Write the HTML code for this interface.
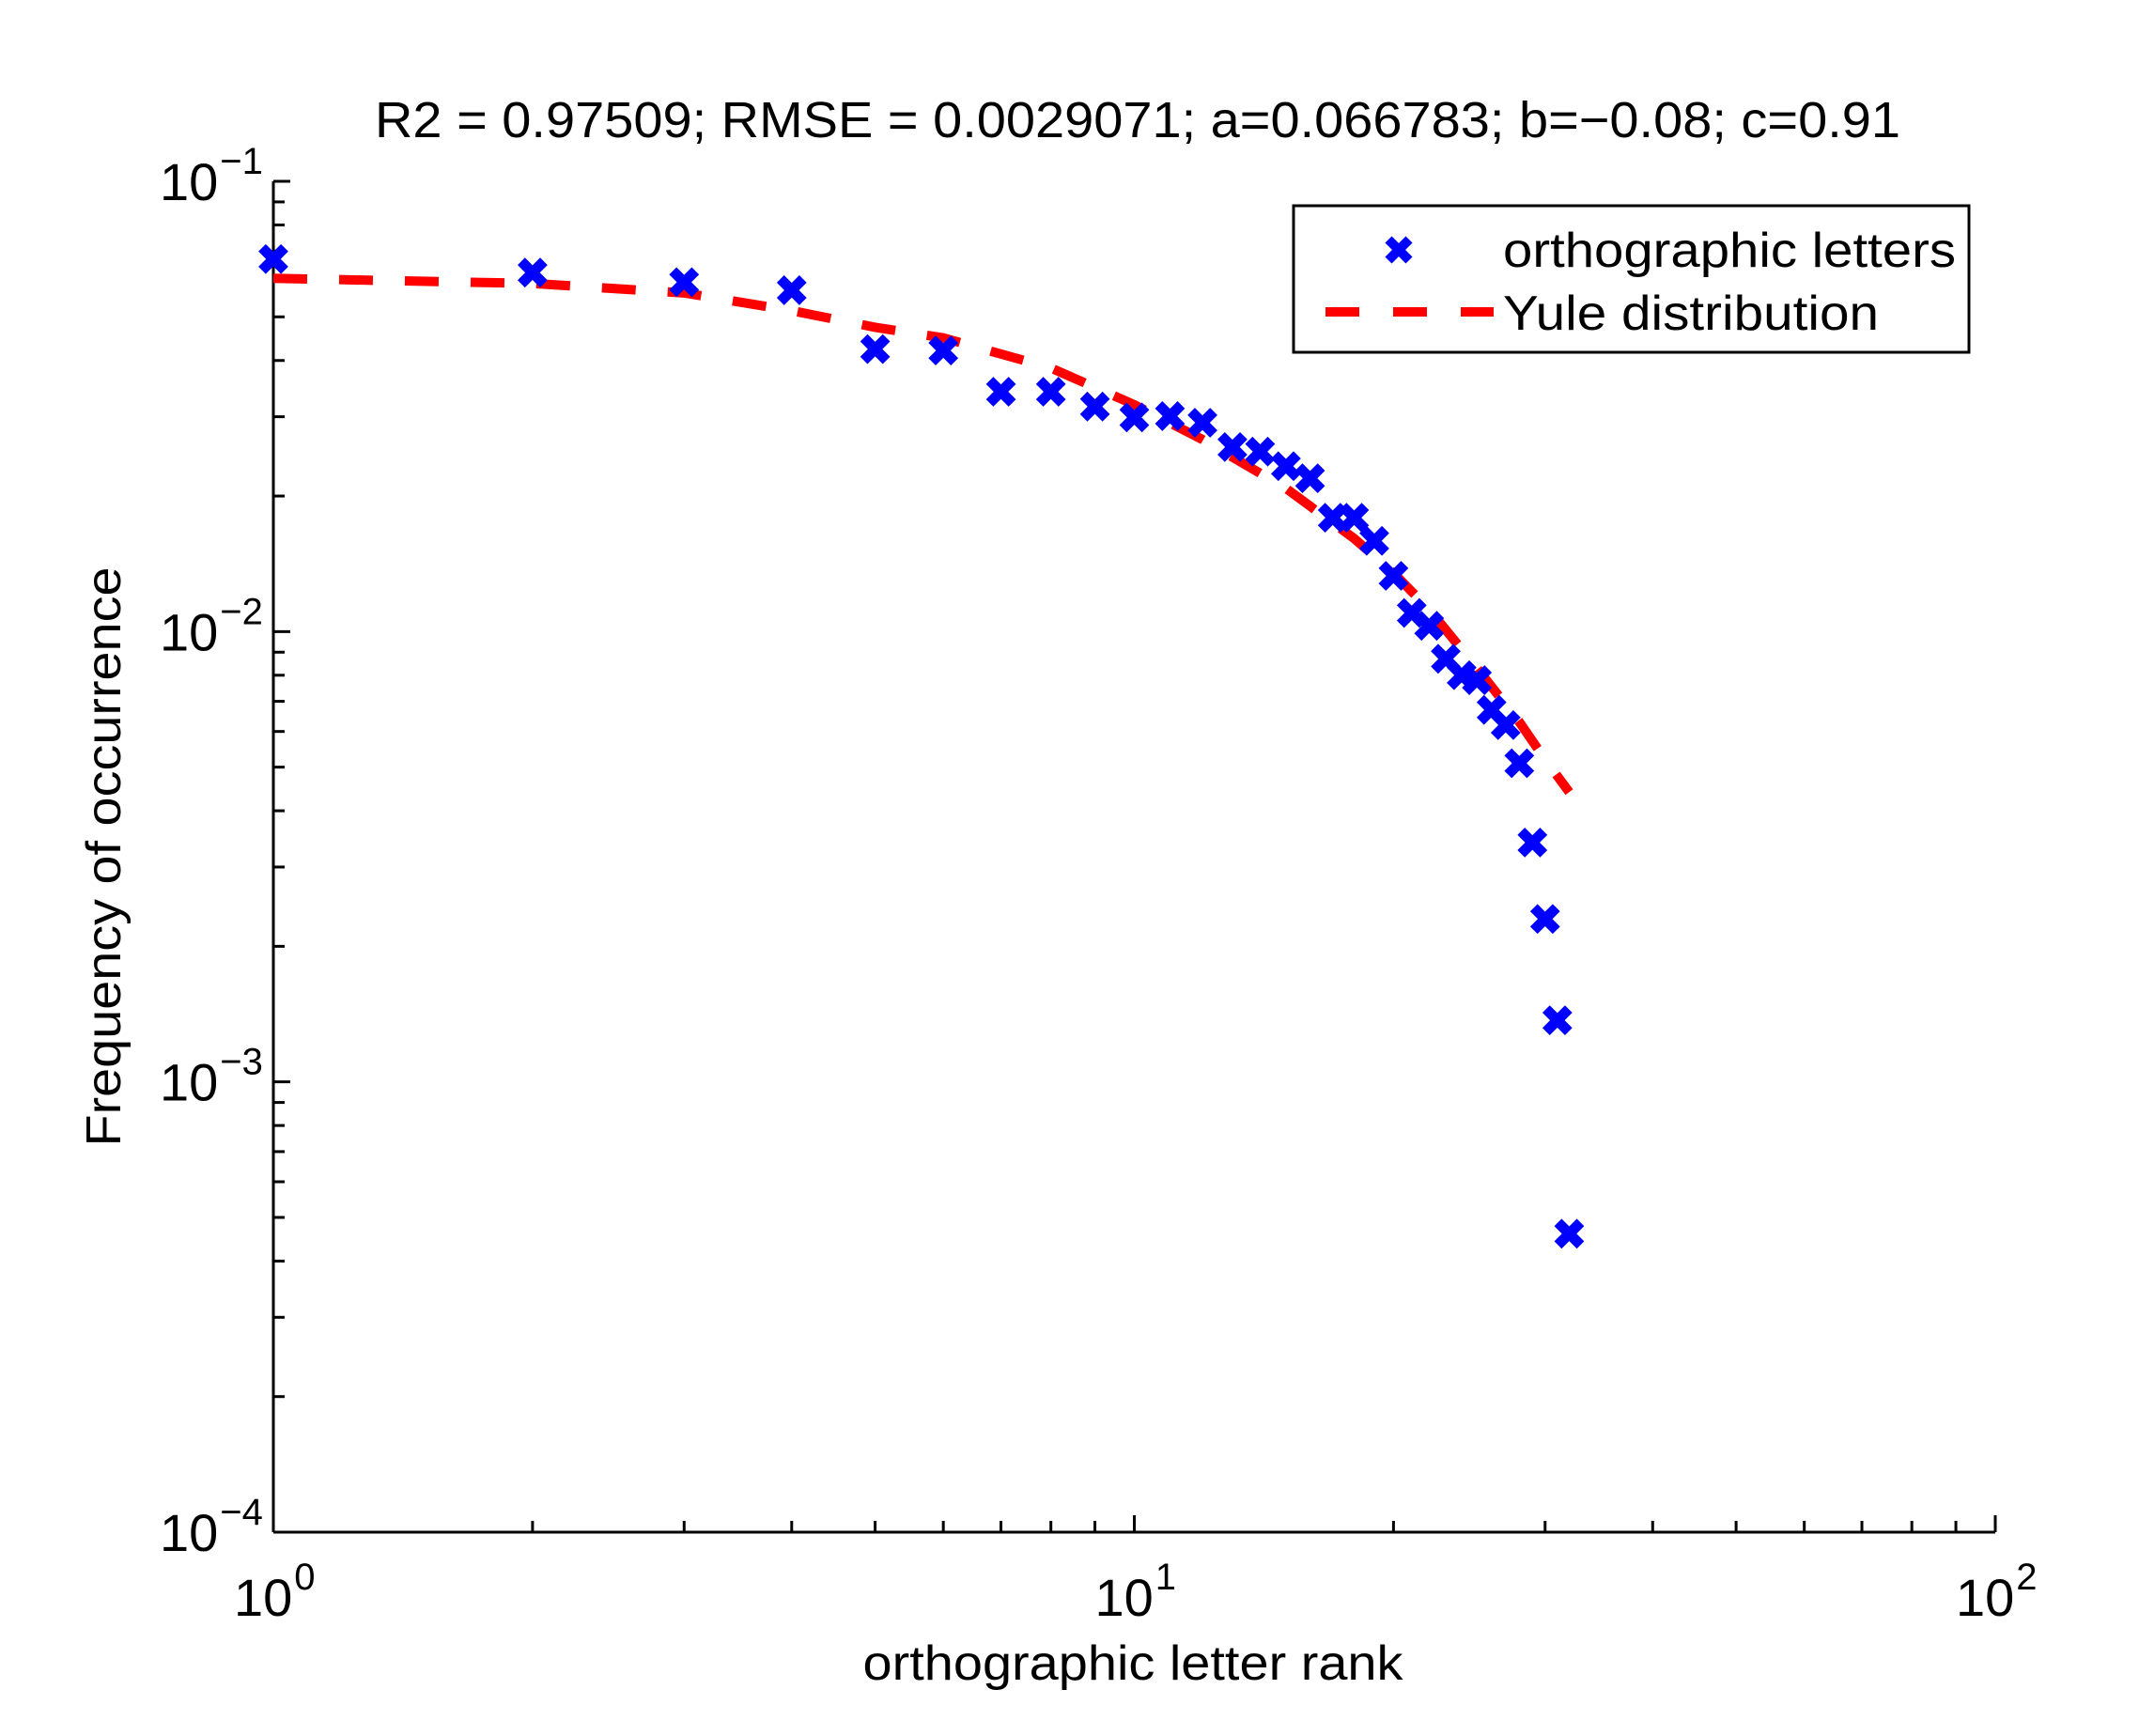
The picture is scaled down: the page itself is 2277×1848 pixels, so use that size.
<!DOCTYPE html>
<html><head><meta charset="utf-8"><style>
html,body{margin:0;padding:0;background:#fff;}
svg{display:block;font-family:"Liberation Sans",Arial,sans-serif;}
</style></head><body>
<svg id="chart" width="2277" height="1848" viewBox="0 0 2277 1848">
<rect width="2277" height="1848" fill="#fff"/>
<text x="1211" y="146" font-size="54" text-anchor="middle" textLength="1624" lengthAdjust="spacingAndGlyphs">R2 = 0.97509; RMSE = 0.0029071; a=0.066783; b=−0.08; c=0.91</text>
<g id="axes"></g>
<g id="fit"></g>
<g id="pts"></g>
<text x="1206" y="1788" font-size="52" text-anchor="middle" textLength="575" lengthAdjust="spacingAndGlyphs">orthographic letter rank</text>
<text transform="translate(128,912) rotate(-90)" x="0" y="0" font-size="52" text-anchor="middle" textLength="617" lengthAdjust="spacingAndGlyphs">Frequency of occurrence</text>
<g>
<rect x="1377" y="219" width="719" height="156" fill="#fff" stroke="#000" stroke-width="3"/>
<g>
<path d="M1478,255 L1500,277 M1500,255 L1478,277" stroke="#00f" stroke-width="10"/>
<text x="1600" y="284" font-size="52" textLength="482" lengthAdjust="spacingAndGlyphs">orthographic letters</text>
</g>
<g>
<line x1="1411" y1="332" x2="1590" y2="332" stroke="#f00" stroke-width="10" stroke-dasharray="36,36"/>
<text x="1600" y="351" font-size="52" textLength="400" lengthAdjust="spacingAndGlyphs">Yule distribution</text>
</g>
</g>
</svg>
<script>
const ranks=[1,2,3,4,5,6,7,8,9,10,11,12,13,14,15,16,17,18,19,20,21,22,23,24,25,26,27,28,29,30,31,32];
const freqs=[0.0672,0.0627,0.0597,0.0573,0.0424,0.0421,0.0341,0.0341,0.0316,0.0299,0.0301,0.0291,0.0257,0.0251,0.0233,0.0219,0.0179,0.0179,0.0159,0.0133,0.0110,0.0103,0.0087,0.0080,0.0078,0.0067,0.0062,0.0051,0.0034,0.0023,0.00137,0.00046];
const fitRanks=[1,2,3,4,5,6,8,10,12,15,18,20,22,25,28,30,32];
const fitVals=[0.0609,0.0593,0.0565,0.0516,0.0474,0.0449,0.0385,0.0319,0.0267,0.0208,0.0161,0.0135,0.0112,0.0083,0.0063,0.0052,0.0044];
const xTickExp=[0,1,2];
const yTickExp=[-1,-2,-3,-4];
const NS='http://www.w3.org/2000/svg';
const L=291,R=2124,T=193,B=1631;
const xs=v=>L+(Math.log10(v)-0)/2*(R-L);
const ys=v=>T+(-1-Math.log10(v))/3*(B-T);
function mk(tag,attrs,parent){const e=document.createElementNS(NS,tag);for(const k in attrs)e.setAttribute(k,attrs[k]);parent.appendChild(e);return e;}
const ax=document.getElementById('axes');
const xl=mk('line',{x1:L,y1:B,x2:R,y2:B,stroke:'#000','stroke-width':3},ax);


const yl=mk('line',{x1:L,y1:T,x2:L,y2:B,stroke:'#000','stroke-width':3},ax);


for(let d=0;d<2;d++){for(let m=1;m<=10;m++){const v=Math.pow(10,d)*m;if(m===1&&d>0)continue;const x=xs(v);const len=(m===1||m===10)?18:12;
const t=mk('line',{x1:x,y1:B,x2:x,y2:B-len,stroke:'#000','stroke-width':3},ax);

}}
xTickExp.forEach(e=>{const x=xs(Math.pow(10,e));
const t=mk('text',{x:x-42,y:1720,'font-size':56},ax);


t.textContent='10';
const s=mk('tspan',{dx:2,dy:-28,'font-size':40},t);s.textContent=String(e).replace('-','−');});
for(let d=-4;d<-1;d++){for(let m=1;m<=10;m++){const v=Math.pow(10,d)*m;if(m===1&&d>-4)continue;const y=ys(v);const len=(m===1||m===10)?18:12;
const t=mk('line',{x1:L,y1:y,x2:L+len,y2:y,stroke:'#000','stroke-width':3},ax);

}}
yTickExp.forEach(e=>{const y=ys(Math.pow(10,e));
const t=mk('text',{x:170,y:y+20,'font-size':56},ax);


t.textContent='10';
const s=mk('tspan',{dx:2,dy:-28,'font-size':40},t);s.textContent=String(e).replace('-','−');});
const fg=document.getElementById('fit');
const pl=mk('polyline',{points:fitRanks.map((r,i)=>xs(r)+','+ys(fitVals[i])).join(' '),fill:'none',stroke:'#f00','stroke-width':10,'stroke-dasharray':'36,34'},fg);


const pg=document.getElementById('pts');
ranks.forEach((r,i)=>{const x=xs(r),y=ys(freqs[i]),h=12;
const p=mk('path',{d:`M${x-h},${y-h}L${x+h},${y+h}M${x+h},${y-h}L${x-h},${y+h}`,stroke:'#00f','stroke-width':11},pg);

});
</script>
</body></html>
